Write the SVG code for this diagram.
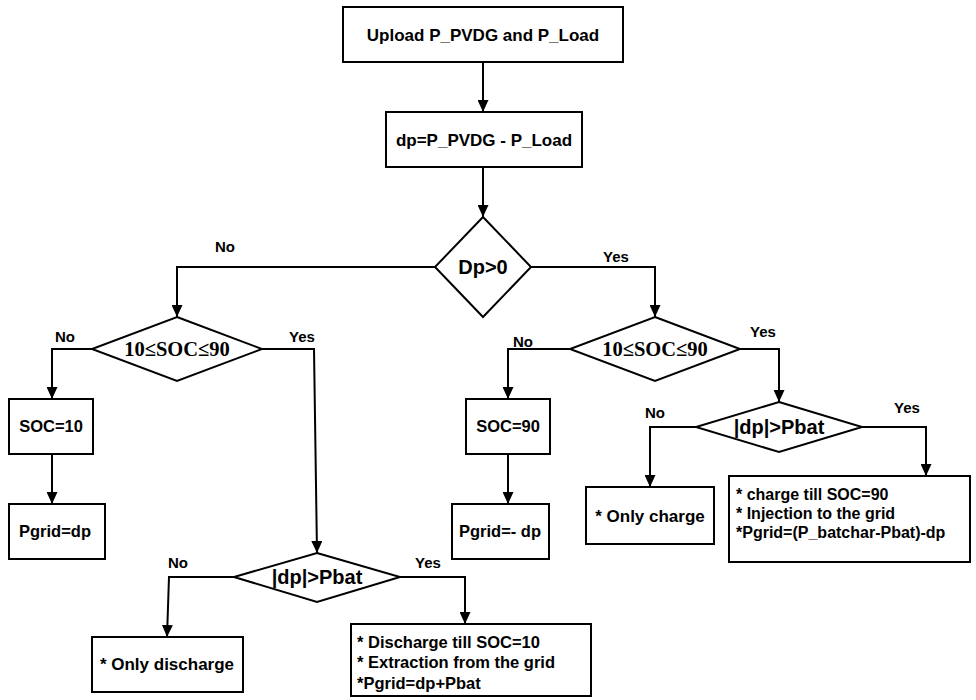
<svg xmlns="http://www.w3.org/2000/svg" width="976" height="700" viewBox="0 0 976 700">
<style>
.box{fill:#fff;stroke:#000;stroke-width:2}
.t{font-family:"Liberation Sans",Arial,sans-serif;font-weight:bold;fill:#000}
.c{text-anchor:middle}
.s{font-family:"Liberation Serif","Times New Roman",serif;font-weight:bold;font-size:20.5px;text-anchor:middle}
.lbl{font-family:"Liberation Sans",Arial,sans-serif;font-weight:bold;font-size:15px;text-anchor:middle}
.ln{fill:none;stroke:#000;stroke-width:2}
</style>
<defs>
<marker id="arr" markerUnits="userSpaceOnUse" markerWidth="12" markerHeight="11" refX="12" refY="5.5" orient="auto">
<path d="M0,0 L12,5.5 L0,11 z" fill="#000"/>
</marker>
</defs>
<rect width="976" height="700" fill="#fff"/>
<g id="connectors">
<path class="ln" marker-end="url(#arr)" d="M483,62 L483,112"/>
<path class="ln" marker-end="url(#arr)" d="M483,167 L483,217"/>
<path class="ln" marker-end="url(#arr)" d="M435,267 L177,267 L177,317"/>
<path class="ln" marker-end="url(#arr)" d="M531,267 L655,267 L655,317"/>
<path class="ln" marker-end="url(#arr)" d="M92,349 L52,349 L52,399"/>
<path class="ln" marker-end="url(#arr)" d="M52,454 L52,504"/>
<path class="ln" marker-end="url(#arr)" d="M262,349 L314,349 L317,553"/>
<path class="ln" marker-end="url(#arr)" d="M234,577 L169,577 L167,637"/>
<path class="ln" marker-end="url(#arr)" d="M400,577 L465,577 L465,624"/>
<path class="ln" marker-end="url(#arr)" d="M570,349 L508,349 L508,399"/>
<path class="ln" marker-end="url(#arr)" d="M508,454 L508,504"/>
<path class="ln" marker-end="url(#arr)" d="M740,349 L779,349 L779,402"/>
<path class="ln" marker-end="url(#arr)" d="M696,427 L650,427 L650,487"/>
<path class="ln" marker-end="url(#arr)" d="M862,427 L926,427 L926,476"/>
<text class="lbl" x="225" y="252">No</text>
<text class="lbl" x="616" y="262">Yes</text>
<text class="lbl" x="65" y="342">No</text>
<text class="lbl" x="302" y="342">Yes</text>
<text class="lbl" x="178" y="568">No</text>
<text class="lbl" x="428" y="568">Yes</text>
<text class="lbl" x="523" y="347">No</text>
<text class="lbl" x="763" y="337">Yes</text>
<text class="lbl" x="655" y="418">No</text>
<text class="lbl" x="907" y="413">Yes</text>
</g>
<g id="upload">
<rect class="box" x="343" y="7" width="280" height="55"/>
<text class="t c" x="483" y="41" font-size="17">Upload P_PVDG and P_Load</text>
</g>
<g id="dp">
<rect class="box" x="386" y="112" width="196" height="55"/>
<text class="t c" x="484" y="146" font-size="17">dp=P_PVDG - P_Load</text>
</g>
<g id="dec_dp">
<polygon class="box" points="483,217 531,267 483,317 435,267"/>
<text class="t c" x="483" y="274" font-size="20">Dp&gt;0</text>
</g>
<g id="dec_soc_left">
<polygon class="box" points="177,317 262,349 177,381 92,349"/>
<text class="s" x="177" y="356">10≤SOC≤90</text>
</g>
<g id="soc10">
<rect class="box" x="9" y="399" width="84" height="55"/>
<text class="t c" x="51" y="432" font-size="16.5">SOC=10</text>
</g>
<g id="pgrid_dp">
<rect class="box" x="9" y="504" width="96" height="55"/>
<text class="t c" x="55" y="537" font-size="16.5">Pgrid=dp</text>
</g>
<g id="dec_pbat_left">
<polygon class="box" points="317,553 400,577 317,602 234,577"/>
<text class="t c" x="317" y="584" font-size="20">|dp|&gt;Pbat</text>
</g>
<g id="only_discharge">
<rect class="box" x="92" y="637" width="151" height="55"/>
<text class="t c" x="167" y="670" font-size="17">* Only discharge</text>
</g>
<g id="discharge_grid">
<rect class="box" x="351" y="624" width="240" height="72"/>
<text class="t" x="357" y="647.5" font-size="16.5">* Discharge till SOC=10</text>
<text class="t" x="357" y="667.5" font-size="16.5">* Extraction from the grid</text>
<text class="t" x="357" y="688.5" font-size="16.5">*Pgrid=dp+Pbat</text>
</g>
<g id="dec_soc_right">
<polygon class="box" points="655,317 740,349 655,381 570,349"/>
<text class="s" x="655" y="356">10≤SOC≤90</text>
</g>
<g id="soc90">
<rect class="box" x="466" y="399" width="84" height="55"/>
<text class="t c" x="508" y="432" font-size="16.5">SOC=90</text>
</g>
<g id="pgrid_minus_dp">
<rect class="box" x="452" y="504" width="97" height="55"/>
<text class="t c" x="500" y="537" font-size="16.5">Pgrid=- dp</text>
</g>
<g id="dec_pbat_right">
<polygon class="box" points="779,402 862,427 779,452 696,427"/>
<text class="t c" x="779" y="434" font-size="20">|dp|&gt;Pbat</text>
</g>
<g id="only_charge">
<rect class="box" x="586" y="487" width="128" height="57"/>
<text class="t c" x="650" y="522" font-size="17">* Only charge</text>
</g>
<g id="charge_grid">
<rect class="box" x="729" y="476" width="241" height="86"/>
<text class="t" x="736" y="500" font-size="16">* charge till SOC=90</text>
<text class="t" x="736" y="519" font-size="16">* Injection to the grid</text>
<text class="t" x="736" y="538" font-size="16">*Pgrid=(P_batchar-Pbat)-dp</text>
</g>
</svg>
